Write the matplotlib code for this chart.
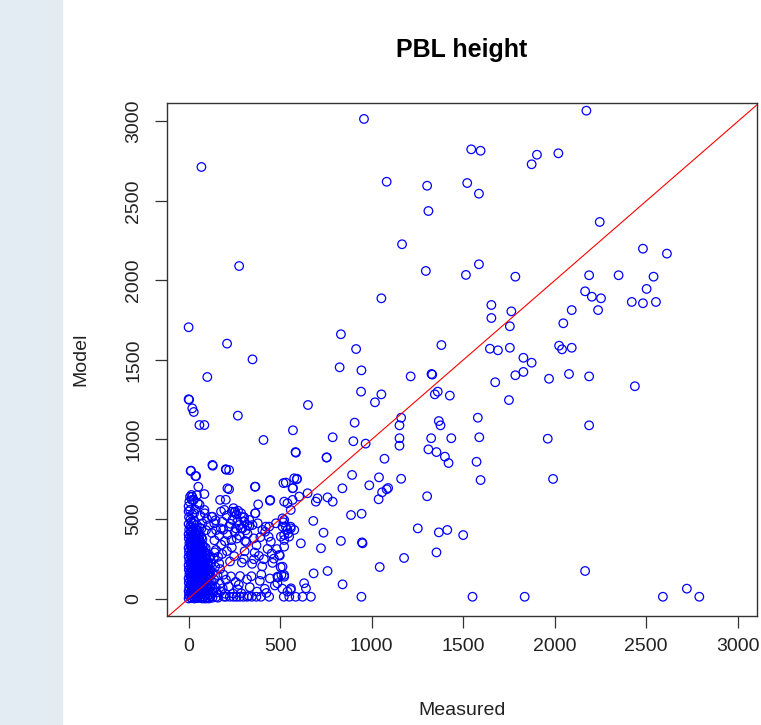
import numpy as np
import matplotlib
matplotlib.use("Agg")
import matplotlib.pyplot as plt
from matplotlib.patches import Rectangle

plt.rcParams['font.family'] = ['Liberation Sans', 'DejaVu Sans']

# (measured, model) pairs, grouped by area of the plot
upper_pts = [
    (2173, 3068), (1544, 2825), (1595, 2816), (1903, 2791), (1874, 2731), (2020, 2800),
    (1303, 2596), (1522, 2613), (1586, 2546), (1310, 2437), (2246, 2368), (1166, 2228),
    (2482, 2200), (2613, 2169), (1296, 2060), (1515, 2035), (1586, 2102), (1785, 2024),
    (2188, 2033), (2349, 2033), (2540, 2024), (2502, 1947), (2166, 1932), (2203, 1898),
    (2253, 1888), (2421, 1865), (2482, 1857), (2553, 1865), (2237, 1814), (2093, 1814),
    (1654, 1846), (1654, 1764), (1763, 1806), (1755, 1712), (2047, 1731), (1381, 1594),
    (1646, 1571), (1690, 1561), (1755, 1577), (2024, 1590), (2040, 1567), (2093, 1577),
    (1829, 1514), (1874, 1483), (1327, 1412), (1331, 1408), (1213, 1397), (1785, 1404),
    (1829, 1425), (1969, 1382), (2078, 1412), (2188, 1397), (1675, 1360), (1345, 1284),
    (1361, 1301), (1427, 1276), (1750, 1248), (2438, 1335), (1161, 1137), (1152, 1089),
    (1367, 1116), (1376, 1089), (1580, 1137), (2188, 1089), (1152, 1008), (1152, 961),
    (1325, 1008), (1435, 1008), (1588, 1014), (1962, 1005), (1310, 938), (1354, 921),
    (1400, 892), (1420, 852), (1573, 860), (1161, 753), (1595, 745), (1991, 752),
    (1303, 643), (1252, 441), (1367, 416), (1413, 431), (1500, 399), (1177, 255),
    (1354, 290), (2166, 173), (1551, 11), (1836, 11), (2591, 11), (2722, 62), (2790, 11),
]

left_pts = [
    (958, 3016), (70, 2714), (1082, 2621), (276, 2091), (1053, 1888), (0, 1706),
    (210, 1603), (832, 1662), (915, 1569), (349, 1504), (825, 1454), (944, 1435),
    (102, 1393), (0, 1253), (3, 1250), (20, 1196), (28, 1173), (942, 1301), (1053, 1284),
    (1018, 1234), (652, 1217), (269, 1150), (59, 1091), (86, 1091), (907, 1106),
    (570, 1058), (409, 997), (787, 1014), (900, 989), (967, 974), (584, 921), (754, 886),
    (1070, 879), (13, 804), (37, 770), (132, 835), (205, 810), (893, 777), (1040, 762),
    (53, 703), (212, 693), (365, 703), (518, 726), (570, 695), (592, 753), (840, 693),
    (987, 712), (1090, 695), (1057, 668), (1082, 687), (1038, 624), (887, 525),
    (945, 533), (947, 353), (950, 347), (1044, 198), (944, 11), (221, 808), (221, 687),
    (362, 703),
]

mid_pts = [
    (586, 917), (754, 888), (577, 756), (591, 750), (531, 729), (568, 693), (522, 609),
    (540, 599), (568, 620), (604, 641), (650, 662), (704, 630), (695, 609), (759, 636),
    (787, 609), (558, 557), (681, 488), (522, 494), (531, 452), (540, 431), (558, 441),
    (577, 431), (522, 400), (549, 389), (522, 326), (737, 414), (613, 347), (723, 316),
    (832, 362), (683, 158), (759, 173), (841, 89), (631, 96), (641, 64), (558, 54),
    (522, 148), (380, 592), (444, 615), (446, 620), (363, 536), (250, 542), (270, 552),
    (287, 536), (365, 536), (378, 473), (422, 452), (418, 420), (518, 479), (513, 452),
    (544, 410), (557, 452), (254, 546), (303, 511), (331, 494), (239, 494), (221, 452),
    (258, 441), (276, 462), (294, 441), (331, 456), (349, 462), (403, 431), (440, 452),
    (477, 473), (513, 504), (449, 357), (504, 389), (522, 368), (495, 274), (498, 270),
    (513, 200), (522, 137), (485, 137), (507, 148), (485, 96), (559, 64), (540, 43),
    (285, 441), (305, 483), (321, 462),
]

# points lying on model = 0
base_pts = [
    (203, 11), (225, 11), (245, 11), (262, 11), (280, 11), (300, 11), (320, 11),
    (345, 11), (370, 11), (395, 11), (440, 11), (520, 11), (550, 11), (585, 11),
    (622, 11), (668, 11),
]

spread_pts = [
    (153, 38), (171, 92), (158, 147), (186, 64), (167, 221), (149, 305), (192, 12),
    (178, 338), (204, 118), (161, 262), (219, 76), (183, 280), (231, 139), (209, 298),
    (243, 31), (226, 233), (198, 361), (257, 104), (236, 322), (268, 58), (249, 266),
    (281, 141), (263, 377), (291, 226), (274, 86), (306, 297), (288, 33), (319, 121),
    (302, 249), (334, 71), (315, 356), (347, 218), (329, 16), (361, 289), (343, 140),
    (374, 43), (357, 247), (389, 111), (371, 334), (402, 202), (384, 268), (416, 61),
    (397, 151), (431, 312), (411, 247), (444, 126), (425, 35), (458, 224), (437, 388),
    (471, 82), (454, 283), (489, 133), (466, 251), (503, 197), (482, 311), (512, 62),
    (127, 412), (141, 366), (167, 397), (189, 432), (213, 402), (234, 367), (252, 418),
    (279, 395), (308, 362), (322, 407), (356, 378), (392, 386), (266, 482), (295, 511),
    (147, 492), (177, 547), (208, 521), (229, 470), (312, 429), (245, 568), (203, 621),
    (262, 528), (160, 5), (175, 45), (190, 150), (172, 185), (200, 30),
]

column_upper = [
    (130, 840), (203, 813), (11, 802), (41, 770), (8, 640), (17, 620), (86, 657),
    (172, 620), (195, 557), (236, 546), (8, 557), (86, 557), (126, 514), (20, 530),
    (35, 560), (60, 590), (75, 473), (88, 536), (30, 536), (100, 500), (110, 460),
    (140, 473), (130, 514), (184, 483), (176, 441), (150, 430), (95, 430), (70, 440),
    (65, 520), (50, 600), (45, 650), (28, 620), (15, 651), (20, 640), (0, 580), (4, 610),
]

column_dense = [
    (0, 0), (2, 22), (0, 47), (3, 71), (1, 98), (0, 126), (4, 152), (1, 181), (0, 209),
    (3, 236), (0, 262), (2, 291), (0, 318), (4, 347), (1, 377), (0, 404), (3, 433),
    (0, 468), (2, 512), (0, 548),
    (8, 8), (9, 35), (7, 60), (10, 88), (8, 113), (11, 139), (7, 167), (9, 195), (12, 222),
    (8, 249), (10, 276), (7, 305), (11, 333), (9, 361), (8, 392), (12, 421), (9, 455), (10, 498),
    (16, 3), (15, 29), (17, 55), (14, 80), (18, 107), (16, 133), (15, 160), (19, 188),
    (14, 215), (17, 243), (16, 270), (18, 298), (15, 326), (17, 356), (16, 386), (14, 414),
    (18, 447), (16, 482),
    (23, 14), (22, 41), (25, 66), (24, 93), (21, 120), (26, 147), (23, 175), (25, 201),
    (22, 228), (24, 257), (26, 284), (23, 312), (22, 340), (25, 371), (24, 402), (23, 436),
    (26, 472),
    (31, 0), (30, 24), (32, 50), (29, 77), (33, 103), (31, 129), (30, 157), (34, 184),
    (29, 211), (32, 238), (30, 266), (33, 294), (31, 323), (30, 351), (34, 382), (32, 415),
    (30, 490),
    (38, 10), (39, 37), (37, 63), (40, 90), (38, 117), (41, 143), (37, 170), (40, 197),
    (39, 225), (38, 253), (41, 280), (39, 309), (37, 338), (40, 368), (38, 398), (41, 430),
    (46, 2), (45, 27), (47, 53), (44, 81), (48, 108), (46, 136), (45, 162), (47, 190),
    (44, 218), (48, 246), (46, 273), (45, 302), (47, 331), (44, 360), (46, 392), (48, 425),
    (45, 462),
    (53, 15), (54, 42), (52, 68), (55, 95), (53, 122), (51, 149), (54, 176), (52, 204),
    (55, 232), (53, 259), (51, 287), (54, 316), (53, 346), (52, 377), (55, 410),
    (61, 4), (60, 31), (62, 58), (59, 85), (61, 112), (63, 139), (60, 166), (62, 194),
    (59, 222), (61, 250), (60, 278), (62, 307), (61, 337), (59, 368), (62, 400), (60, 445),
    (68, 12), (69, 39), (67, 65), (70, 92), (68, 120), (71, 147), (67, 175), (69, 203),
    (70, 231), (68, 260), (71, 289), (69, 319), (67, 350), (70, 385),
    (76, 0), (77, 26), (75, 52), (78, 79), (76, 106), (74, 134), (77, 161), (75, 189),
    (78, 217), (76, 246), (74, 275), (77, 305), (76, 336), (75, 372),
    (84, 9), (85, 36), (83, 63), (86, 91), (84, 118), (82, 146), (85, 174), (83, 203),
    (86, 232), (84, 262), (85, 293), (83, 326),
    (92, 0), (93, 22), (91, 49), (94, 77), (92, 105), (95, 133), (91, 162), (93, 191),
    (92, 221), (94, 252), (91, 284), (93, 318),
    (101, 7), (100, 34), (102, 62), (99, 91), (103, 120), (101, 150), (100, 181),
    (102, 213), (99, 246), (101, 281),
    (110, 0), (111, 25), (109, 55), (112, 86), (110, 118), (108, 151), (111, 185),
    (110, 220), (112, 258),
    (120, 14), (121, 45), (119, 78), (122, 112), (120, 147), (118, 183), (121, 222), (119, 262),
    (130, 5), (135, 40), (128, 80), (140, 120), (132, 160), (145, 200), (138, 250),
    (150, 10), (148, 70), (142, 290),
]

ticks = [0, 500, 1000, 1500, 2000, 2500, 3000]

pts = np.array(upper_pts + left_pts + mid_pts + base_pts + spread_pts + column_upper + column_dense)
measured = pts[:, 0]
model = pts[:, 1]

fig = plt.figure(figsize=(7.61, 7.25), dpi=100)
fig.patches.append(Rectangle((0, 0), 62 / 761, 1, transform=fig.transFigure,
                             color='#e2ecf2', zorder=0))
ax = fig.add_axes([0.219, 0.1497, 0.7757, 0.7086])

ax.scatter(measured, model, s=38, facecolors='none', edgecolors='#0000ff', linewidths=0.9)
ax.axline((0, 0), slope=1, color='#ff0000', lw=0.8)

ax.set_xlim(-120, 3105)
ax.set_ylim(-113, 3118)
ax.set_xticks(ticks)
ax.set_yticks(ticks)
ax.tick_params(length=8.5, width=0.9, color='#333333', labelsize=14, labelcolor='#222222')
ax.tick_params(axis='x', pad=7)
ax.tick_params(axis='y', pad=9)
plt.setp(ax.get_yticklabels(), rotation=90, va='center')
for s in ax.spines.values():
    s.set_color('#333333')
    s.set_linewidth(1.0)

ax.set_title('PBL height', fontsize=18, fontweight='bold', pad=33)
ax.set_xlabel('Measured', fontsize=14, labelpad=34, color='#222222')
ax.set_ylabel('Model', fontsize=14, labelpad=26, color='#222222')

fig.savefig('out.png', dpi=100)
